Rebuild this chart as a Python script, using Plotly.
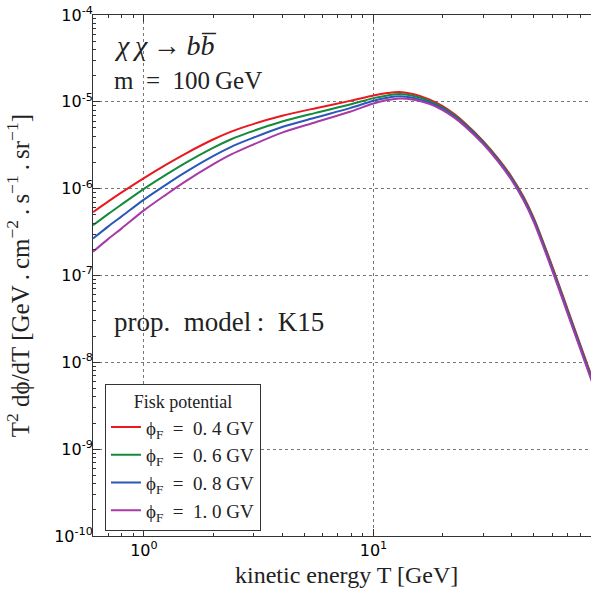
import plotly.graph_objects as go

# kinetic energy grid [GeV]
T = [0.6, 0.7, 0.8, 1.0, 1.25, 1.5, 2.0, 2.4, 2.87, 4.0, 5.6, 7.9, 10, 11.5, 13,
     15, 17.5, 20, 22.5, 25, 30, 35, 40, 45, 50, 60, 70, 80, 90]

# log10 of T^2 dphi/dT, one list per Fisk potential
log_flux_04 = [-6.270, -6.146, -6.043, -5.878, -5.723, -5.604, -5.434, -5.343, -5.271, -5.161, -5.073, -4.989,
               -4.926, -4.899, -4.886,
               -4.912, -4.972, -5.050, -5.142, -5.243, -5.449, -5.656, -5.865, -6.090, -6.342, -6.888, -7.383,
               -7.812, -8.191]
log_flux_06 = [-6.422, -6.290, -6.181, -6.002, -5.838, -5.711, -5.530, -5.431, -5.352, -5.226, -5.127, -5.031,
               -4.957, -4.926, -4.911,
               -4.934, -4.989, -5.065, -5.155, -5.255, -5.460, -5.668, -5.878, -6.104, -6.357, -6.905, -7.400,
               -7.829, -8.208]
log_flux_08 = [-6.574, -6.434, -6.319, -6.126, -5.953, -5.818, -5.625, -5.518, -5.433, -5.290, -5.181, -5.072,
               -4.988, -4.953, -4.937,
               -4.955, -5.007, -5.079, -5.169, -5.268, -5.472, -5.679, -5.890, -6.118, -6.372, -6.921, -7.416,
               -7.845, -8.224]
log_flux_10 = [-6.726, -6.578, -6.457, -6.250, -6.068, -5.925, -5.721, -5.606, -5.513, -5.355, -5.235, -5.114,
               -5.019, -4.980, -4.962,
               -4.977, -5.024, -5.094, -5.182, -5.280, -5.483, -5.691, -5.903, -6.132, -6.387, -6.938, -7.433,
               -7.862, -8.241]

series_names = ["\u03d5<sub>F</sub>\u2002=\u20020. 4 GV", "\u03d5<sub>F</sub>\u2002=\u20020. 6 GV",
                "\u03d5<sub>F</sub>\u2002=\u20020. 8 GV", "\u03d5<sub>F</sub>\u2002=\u20021. 0 GV"]
series_logs = [log_flux_04, log_flux_06, log_flux_08, log_flux_10]
colors = ["#e8191f", "#138a3c", "#2a57b8", "#a63aa6"]

y_tickvals = [1e-10, 1e-9, 1e-8, 1e-7, 1e-6, 1e-5, 1e-4]
y_ticktext = ["10<sup>-10</sup>", "10<sup>-9</sup>", "10<sup>-8</sup>", "10<sup>-7</sup>",
              "10<sup>-6</sup>", "10<sup>-5</sup>", "10<sup>-4</sup>"]
x_tickvals = [1, 10]
x_ticktext = ["10<sup>0</sup>", "10<sup>1</sup>"]
x_minor = [0.6, 0.7, 0.8, 0.9, 2, 3, 4, 5, 6, 7, 8, 9, 20, 30, 40, 50, 60, 70, 80]
y_minor = [m * 10.0 ** e for e in range(-10, -4) for m in range(2, 10)]

SERIF = "Liberation Serif"
SANS = "DejaVu Sans"
INK = "#222222"

fig = go.Figure()
for name, logs, col in zip(series_names, series_logs, colors):
    fig.add_trace(go.Scatter(x=T, y=[10.0 ** v for v in logs], mode="lines", name=name,
                             line=dict(color=col, width=2, shape="spline", smoothing=0.8)))

axis_common = dict(
    showline=True, linecolor="#333333", linewidth=1,
    ticks="inside", ticklen=7, tickcolor="#333333",
    showgrid=True, gridcolor="#777777", griddash="dot", gridwidth=1,
    zeroline=False, automargin=False, ticklabeloverflow="allow",
    tickfont=dict(family=SANS, size=16, color="black"),
)

fig.update_layout(
    width=591, height=590,
    margin=dict(l=93, r=0, t=15, b=54),
    paper_bgcolor="white", plot_bgcolor="white",
    xaxis=dict(type="log", range=[-0.2218, 1.9476], mirror="allticks",
               tickvals=x_tickvals, ticktext=x_ticktext,
               minor=dict(ticks="inside", ticklen=3, tickcolor="#333333", showgrid=False, tickvals=x_minor),
               **axis_common),
    yaxis=dict(type="log", range=[-10, -4], mirror=False,
               tickvals=y_tickvals, ticktext=y_ticktext, ticklabelstandoff=-4,
               minor=dict(ticks="inside", ticklen=3, tickcolor="#333333", showgrid=False, tickvals=y_minor),
               **axis_common),
    legend=dict(x=0.024, y=0.292, xanchor="left", yanchor="top",
                bgcolor="white", bordercolor="#333333", borderwidth=1,
                font=dict(family=SERIF, size=19, color=INK),
                title=dict(text="Fisk potential", side="top center",
                           font=dict(family=SERIF, size=18, color=INK)),
                itemwidth=30, tracegroupgap=0),
    showlegend=True,
)

# axis titles
fig.add_annotation(xref="paper", yref="paper", x=0.51, y=-0.075, xanchor="center", yanchor="middle",
                   text="kinetic energy T [GeV]", showarrow=False,
                   font=dict(family=SERIF, size=24, color=INK))
fig.add_annotation(xref="paper", yref="paper", x=-0.151, y=0.5, xanchor="center", yanchor="middle",
                   textangle=-90,
                   text=("T<sup>2</sup> d\u03d5/dT [GeV\u2009.\u2009cm<sup>\u22122</sup>\u2009.\u2009"
                         "s<sup>\u22121</sup>\u2009.\u2009sr<sup>\u22121</sup>]"),
                   showarrow=False, font=dict(family=SERIF, size=25, color=INK))

# in-plot labels
fig.add_annotation(xref="paper", yref="paper", x=0.038, y=0.942, xanchor="left", yanchor="middle",
                   text="<i>\u03c7\u2009\u03c7</i>\u2009\u2192\u2009<i>b</i><i>b\u0305</i>", showarrow=False,
                   font=dict(family=SERIF, size=28, color=INK))
fig.add_annotation(xref="paper", yref="paper", x=0.038, y=0.875, xanchor="left", yanchor="middle",
                   text="m\u2002=\u2002100\u2009GeV", showarrow=False,
                   font=dict(family=SERIF, size=25, color=INK))
fig.add_annotation(xref="paper", yref="paper", x=0.038, y=0.411, xanchor="left", yanchor="middle",
                   text="prop.\u2002model\u2009:\u2002K15", showarrow=False,
                   font=dict(family=SERIF, size=27, color=INK))

# remove the default 8px page margin so the figure fills the window exactly
fig.write_html("out.html", config={"displayModeBar": False},
               post_script="document.body.style.margin='0';document.body.style.overflow='hidden';")
